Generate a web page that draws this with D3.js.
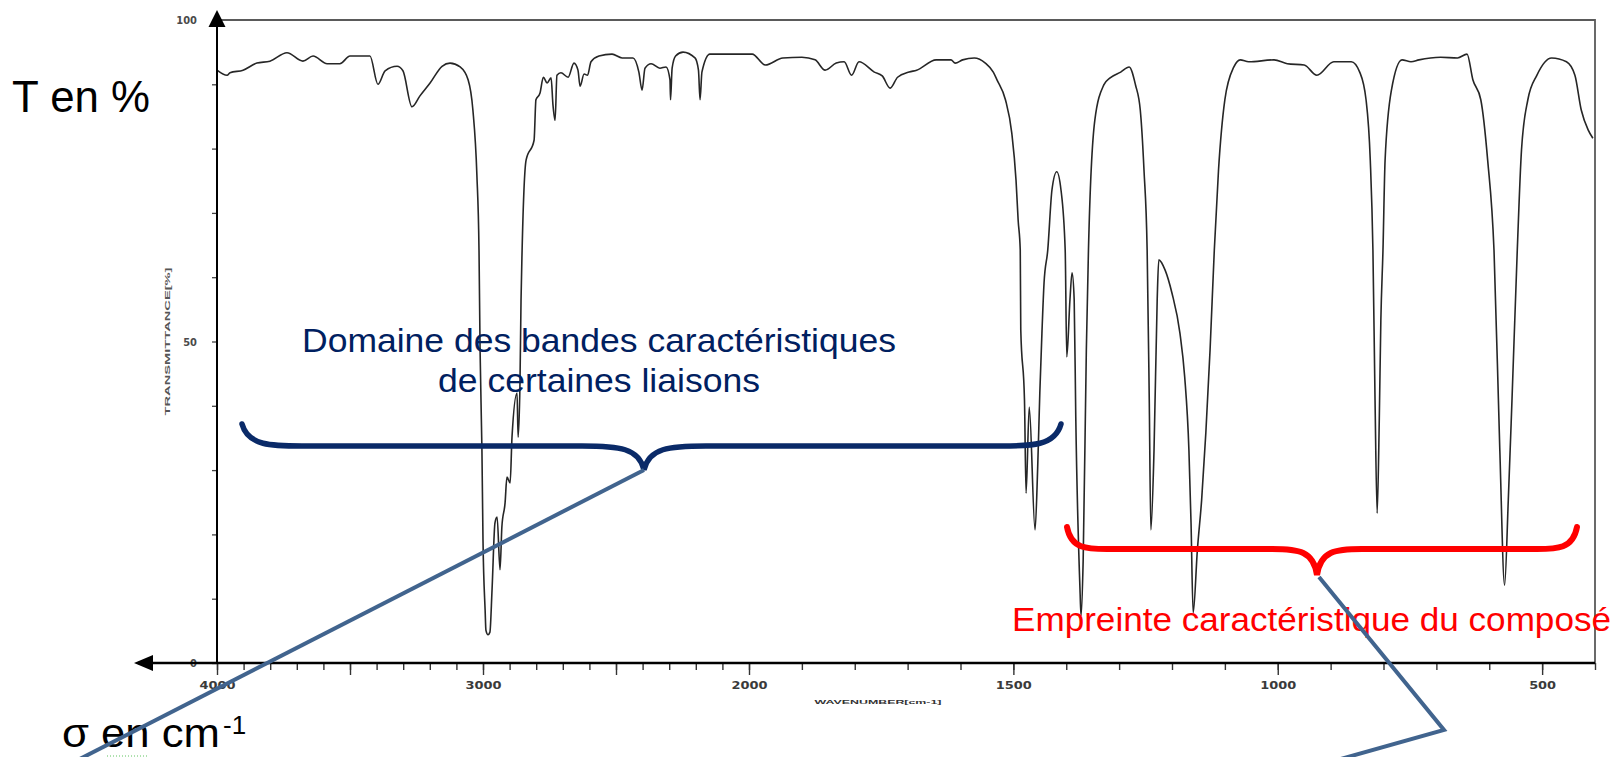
<!DOCTYPE html>
<html>
<head>
<meta charset="utf-8">
<script src="https://cdn.jsdelivr.net/npm/d3@7"></script>
<style>
  body { margin: 0; background: #fff; }
  svg { display: block; font-family: "Liberation Sans", Arial, sans-serif; }
</style>
</head>
<body>
<svg id="chart" width="1619" height="757"></svg>
<script>
// spectrum: wavenumber (cm-1) and transmittance (%)
const wavenumber = [
  4000, 3962, 3951, 3902, 3850, 3801, 3737, 3677, 3639, 3586, 3538, 3500, 3425, 3395, 3368, 3323,
  3301, 3267, 3237, 3199, 3154, 3124, 3086, 3056, 3038, 3023, 3015, 3011, 3004, 3000, 2992, 2989,
  2981, 2974, 2966, 2955, 2947, 2936, 2929, 2917, 2910, 2898, 2891, 2872, 2868, 2861, 2857, 2853,
  2838, 2808, 2801, 2786, 2773, 2759, 2744, 2737, 2729, 2722, 2707, 2680, 2658, 2643, 2635, 2620,
  2607, 2594, 2564, 2515, 2477, 2436, 2414, 2402, 2391, 2368, 2335, 2312, 2297, 2295, 2289, 2276,
  2248, 2203, 2190, 2184, 2177, 2147, 1994, 1969, 1936, 1900, 1875, 1856, 1835, 1820, 1806, 1792,
  1763, 1748, 1733, 1719, 1697, 1683, 1646, 1618, 1610, 1596, 1574, 1553, 1538, 1531, 1515, 1503,
  1495, 1491, 1487, 1486, 1479, 1476, 1470, 1459, 1454, 1450, 1446, 1442, 1435, 1427, 1418, 1410,
  1402, 1399, 1393, 1389, 1385, 1382, 1374, 1372, 1368, 1362, 1358, 1346, 1329, 1317, 1297, 1281,
  1269, 1260, 1253, 1247, 1243, 1240, 1234, 1228, 1225, 1213, 1200, 1185, 1176, 1168, 1164, 1160,
  1152, 1144, 1136, 1128, 1120, 1112, 1100, 1083, 1071, 1055, 1007, 982, 950, 926, 894, 861,
  845, 833, 825, 820, 816, 812, 808, 805, 801, 797, 785, 765, 748, 733, 692, 660,
  642, 631, 616, 603, 591, 580, 571, 564, 557, 547, 539, 527, 510, 482, 454, 438,
  426, 413, 404
];
const transmittance = [
  92.2, 91.4, 91.8, 92.2, 93.3, 93.6, 94.9, 93.6, 94.4, 93.2, 93.2, 94.4, 94.4, 90.0, 92.1, 92.8,
  92.1, 86.5, 88.2, 90.2, 92.8, 93.3, 92.7, 90.7, 86.0, 75.9, 64.2, 48.7, 33.1, 19.1, 8.2, 5.1,
  4.4, 4.8, 11.4, 21.8, 22.7, 14.5, 21.2, 24.9, 28.9, 28.0, 35.1, 42.0, 35.1, 43.5, 56.5, 64.2,
  78.2, 81.3, 87.6, 88.6, 91.1, 90.2, 91.0, 86.8, 84.4, 91.4, 91.8, 91.1, 93.3, 92.2, 89.7, 91.6,
  91.4, 93.5, 94.4, 94.7, 94.1, 94.1, 91.9, 89.1, 92.5, 93.2, 92.5, 92.7, 90.7, 87.6, 92.5, 94.4,
  95.0, 94.1, 92.2, 87.6, 91.9, 94.7, 94.7, 93.0, 94.1, 94.2, 93.8, 92.2, 93.3, 93.5, 91.4, 93.5,
  91.9, 91.3, 89.4, 91.1, 91.9, 92.2, 93.8, 93.8, 93.3, 93.8, 94.1, 93.3, 91.9, 90.7, 87.6, 82.4,
  75.1, 68.9, 64.2, 51.8, 40.9, 26.4, 39.8, 20.7, 30.5, 42.0, 51.3, 59.1, 64.2, 73.6, 76.4, 73.6,
  64.2, 47.6, 56.5, 60.7, 56.5, 38.3, 11.4, 7.3, 16.0, 48.7, 64.2, 84.4, 89.9, 91.0, 91.9, 92.7,
  89.9, 86.0, 76.7, 64.2, 40.9, 20.7, 33.1, 56.5, 62.7, 61.1, 57.5, 51.3, 44.5, 33.1, 21.8, 7.8,
  17.6, 25.3, 35.8, 48.7, 64.2, 76.7, 87.6, 92.7, 93.8, 93.5, 93.8, 93.2, 93.0, 91.4, 93.5, 93.5,
  91.9, 87.6, 78.2, 64.2, 40.9, 23.3, 37.8, 53.3, 64.2, 78.2, 89.1, 93.8, 93.5, 93.8, 94.2, 94.1,
  94.7, 90.7, 87.6, 78.2, 64.2, 33.1, 12.1, 25.3, 40.9, 64.2, 79.8, 87.6, 91.4, 94.1, 93.5, 91.4,
  86.0, 82.9, 81.6
];

// axis ticks
const xMinorTicks = d3.range(400, 4001, 100);
const xMajorTicks = [4000, 3500, 3000, 2500, 2000, 1500, 1000, 500];
const xLabelTicks = [4000, 3000, 2000, 1500, 1000, 500];
const yTicks = d3.range(0, 101, 10);
const yLabelTicks = [0, 50, 100];

const svg = d3.select("#chart");

// the spectrum scale is compressed above 2000 cm-1
const x = d3.scaleLinear().domain([4000, 2000, 400]).range([217, 749, 1595]);
const y = d3.scaleLinear().domain([0, 100]).range([663, 20]);

// frame (top and right)
svg.append("path")
    .attr("d", "M" + x(4000) + "," + y(100) + "H" + x(400) + "V" + y(0))
    .attr("fill", "none")
    .attr("stroke", "#5a5a5a")
    .attr("stroke-width", 1.8);

// x ticks
svg.append("g")
    .attr("transform", "translate(0," + y(0) + ")")
    .call(d3.axisBottom(x).tickValues(xMinorTicks).tickSize(7).tickSizeOuter(0).tickFormat(""))
    .call(g => g.select(".domain").remove())
    .call(g => g.selectAll("line").attr("stroke", "#333").attr("stroke-width", 1.4));

svg.append("g")
    .attr("transform", "translate(0," + y(0) + ")")
    .call(d3.axisBottom(x).tickValues(xMajorTicks).tickSize(12).tickSizeOuter(0).tickPadding(6)
        .tickFormat(d => xLabelTicks.includes(d) ? d : ""))
    .call(g => g.select(".domain").remove())
    .call(g => g.selectAll("line").attr("stroke", "#333").attr("stroke-width", 1.4))
    .call(g => g.selectAll("text")
        .attr("font-family", "'DejaVu Sans Condensed', 'Liberation Sans', sans-serif")
        .attr("font-weight", "bold")
        .attr("font-size", 11)
        .attr("fill", "#3a3a3a")
        .attr("textLength", d => d >= 1000 ? 36 : 27)
        .attr("lengthAdjust", "spacingAndGlyphs"));

// y ticks
svg.append("g")
    .attr("transform", "translate(" + x(4000) + ",0)")
    .call(d3.axisLeft(y).tickValues(yTicks).tickSize(5).tickSizeOuter(0).tickPadding(15)
        .tickFormat(d => yLabelTicks.includes(d) ? d : ""))
    .call(g => g.select(".domain").remove())
    .call(g => g.selectAll("line").attr("stroke", "#444").attr("stroke-width", 1.3))
    .call(g => g.selectAll("text")
        .attr("font-family", "'DejaVu Sans Condensed', 'Liberation Sans', sans-serif")
        .attr("font-weight", "bold")
        .attr("font-size", 11)
        .attr("fill", "#4a4a4a"));

// tiny instrument axis titles
svg.append("text")
    .attr("transform", "translate(167," + y(50) + ") rotate(-90)")
    .attr("text-anchor", "middle")
    .attr("dy", "0.35em")
    .attr("font-size", 8)
    .attr("font-weight", "bold")
    .attr("fill", "#555")
    .attr("textLength", 148)
    .attr("lengthAdjust", "spacingAndGlyphs")
    .text("TRANSMITTANCE[%]");

svg.append("text")
    .attr("transform", "translate(878,704) scale(1,0.6)")
    .attr("text-anchor", "middle")
    .attr("font-size", 9)
    .attr("font-weight", "bold")
    .attr("fill", "#333")
    .attr("textLength", 127)
    .attr("lengthAdjust", "spacingAndGlyphs")
    .text("WAVENUMBER[cm-1]");

// the spectrum
const line = d3.line()
    .x(d => x(d[0]))
    .y(d => y(d[1]))
    .curve(d3.curveMonotoneX);

svg.append("path")
    .datum(d3.zip(wavenumber, transmittance))
    .attr("d", line)
    .attr("fill", "none")
    .attr("stroke", "#262626")
    .attr("stroke-width", 1.6)
    .attr("stroke-linejoin", "round");

// axes with arrows
svg.append("line")
    .attr("x1", 138).attr("x2", x(400))
    .attr("y1", y(0)).attr("y2", y(0))
    .attr("stroke", "#000").attr("stroke-width", 2.5);
svg.append("line")
    .attr("x1", x(4000)).attr("x2", x(4000))
    .attr("y1", 14).attr("y2", y(0) + 1)
    .attr("stroke", "#000").attr("stroke-width", 2);
svg.append("path")
    .attr("d", "M217,10L208.5,27L225.5,27Z")
    .attr("fill", "#000");
svg.append("path")
    .attr("d", "M134,663L153,655L153,671Z")
    .attr("fill", "#000");

// slide annotations
svg.append("text")
    .attr("x", 12).attr("y", 112)
    .attr("font-size", 45)
    .attr("fill", "#000")
    .attr("textLength", 138)
    .attr("lengthAdjust", "spacingAndGlyphs")
    .text("T en %");

svg.append("text")
    .attr("x", 62).attr("y", 747)
    .attr("font-size", 40)
    .attr("fill", "#000")
    .attr("textLength", 158)
    .attr("lengthAdjust", "spacingAndGlyphs")
    .text("σ en cm");
svg.append("text")
    .attr("x", 223).attr("y", 734)
    .attr("font-size", 26)
    .attr("fill", "#000")
    .text("-1");

svg.append("line")
    .attr("x1", 107).attr("x2", 148)
    .attr("y1", 756).attr("y2", 756)
    .attr("stroke", "#5fc35f")
    .attr("stroke-width", 1)
    .attr("stroke-dasharray", "1,2");

const domaine = svg.append("g")
    .attr("fill", "#002060")
    .attr("font-size", 34)
    .attr("text-anchor", "middle");
domaine.append("text")
    .attr("x", 599).attr("y", 352)
    .attr("textLength", 594)
    .attr("lengthAdjust", "spacingAndGlyphs")
    .text("Domaine des bandes caractéristiques");
domaine.append("text")
    .attr("x", 599).attr("y", 392)
    .attr("textLength", 322)
    .attr("lengthAdjust", "spacingAndGlyphs")
    .text("de certaines liaisons");

svg.append("text")
    .attr("x", 1012).attr("y", 631)
    .attr("font-size", 34)
    .attr("fill", "#ff0000")
    .attr("textLength", 599)
    .attr("lengthAdjust", "spacingAndGlyphs")
    .text("Empreinte caractéristique du composé");

// curly brace between x1 and x2, ends at yEnd, bar at yBar, tip at (xc, yTip)
function brace(x1, x2, xc, yEnd, yBar, yTip, rEnd, rTip) {
  const p = d3.path();
  p.moveTo(x1, yEnd);
  p.bezierCurveTo(x1 + rEnd * 0.1, yBar, x1 + rEnd * 0.5, yBar, x1 + rEnd, yBar);
  p.lineTo(xc - rTip, yBar);
  p.bezierCurveTo(xc - rTip * 0.4, yBar, xc - rTip * 0.08, yBar + 2, xc, yTip);
  p.bezierCurveTo(xc + rTip * 0.08, yBar + 2, xc + rTip * 0.4, yBar, xc + rTip, yBar);
  p.lineTo(x2 - rEnd, yBar);
  p.bezierCurveTo(x2 - rEnd * 0.5, yBar, x2 - rEnd * 0.1, yBar, x2, yEnd);
  return p.toString();
}

svg.append("path")
    .attr("d", brace(242, 1061, 644, 424, 446, 470, 60, 62))
    .attr("fill", "none")
    .attr("stroke", "#0a2a68")
    .attr("stroke-width", 5.5)
    .attr("stroke-linecap", "round");

svg.append("path")
    .attr("d", brace(1067, 1577, 1317, 527, 549, 575, 40, 45))
    .attr("fill", "none")
    .attr("stroke", "#ff0000")
    .attr("stroke-width", 6)
    .attr("stroke-linecap", "round");

// pointer lines
svg.append("path")
    .attr("d", "M644,470L70,764")
    .attr("fill", "none")
    .attr("stroke", "#41648e")
    .attr("stroke-width", 4);

svg.append("path")
    .attr("d", "M1319,577L1444,730L1330,762")
    .attr("fill", "none")
    .attr("stroke", "#41648e")
    .attr("stroke-width", 4)
    .attr("stroke-linejoin", "miter");
</script>
</body>
</html>
